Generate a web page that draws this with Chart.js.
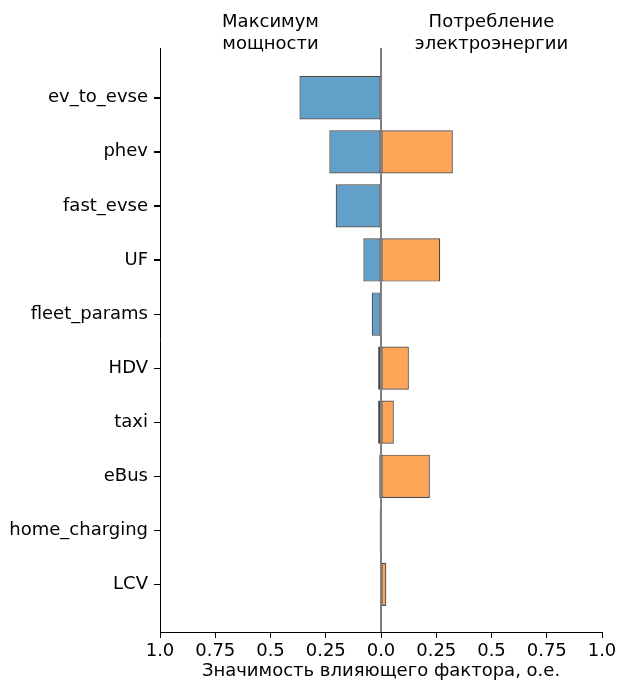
<!DOCTYPE html>
<html>
<head>
<meta charset="utf-8">
<script src="https://cdn.jsdelivr.net/npm/chart.js@4"></script>
<style>
html,body{margin:0;padding:0;background:#fff;}
#wrap{width:618px;height:682px;position:relative;}
</style>
</head>
<body>
<div id="wrap"><canvas id="c" width="618" height="682"></canvas></div>
<script>
const categories = ['ev_to_evse','phev','fast_evse','UF','fleet_params','HDV','taxi','eBus','home_charging','LCV'];
const powerMax = [0.369, 0.234, 0.205, 0.080, 0.042, 0.013, 0.013, 0.008, 0.006, null];
const energyUse = [null, 0.325, null, 0.268, null, 0.126, 0.058, 0.221, null, 0.024];
const xTickValues = [-1, -0.75, -0.5, -0.25, 0, 0.25, 0.5, 0.75, 1];
const xTickLabels = ['1.0','0.75','0.5','0.25','0.0','0.25','0.5','0.75','1.0'];
const groupTitles = [['Максимум','мощности'], ['Потребление','электроэнергии']];
const groupCenters = [-0.5, 0.5];
const xTitle = 'Значимость влияющего фактора, о.е.';

const FONT = "'DejaVu Sans', sans-serif";
const FS = 18;

const overlay = {
  id: 'overlay',
  afterDatasetsDraw(chart) {
    const ctx = chart.ctx, xs = chart.scales.x, ys = chart.scales.y, area = chart.chartArea;
    const x0 = xs.getPixelForValue(0);
    ctx.save();
    ctx.strokeStyle = '#808080';
    ctx.lineWidth = 2;
    ctx.beginPath();
    ctx.moveTo(x0, area.top);
    ctx.lineTo(x0, area.bottom);
    ctx.stroke();
    // y tick marks
    ctx.strokeStyle = '#000';
    ctx.lineWidth = 1;
    ctx.beginPath();
    categories.forEach((c, i) => {
      const py = Math.round(ys.getPixelForValue(i)) + 0.5;
      ctx.moveTo(area.left - 6, py);
      ctx.lineTo(area.left, py);
    });
    ctx.stroke();
    ctx.fillStyle = '#000';
    ctx.font = FS + 'px ' + FONT;
    ctx.textAlign = 'center';
    ctx.textBaseline = 'middle';
    groupTitles.forEach((lines, i) => {
      const cx = xs.getPixelForValue(groupCenters[i]);
      lines.forEach((t, j) => ctx.fillText(t, cx, 22 + j * 22));
    });
    ctx.restore();
  }
};

const barStyle = {
  borderColor: 'rgba(0,0,0,0.72)',
  borderWidth: 1.2,
  borderSkipped: false,
  categoryPercentage: 0.8,
  barPercentage: 1,
  grouped: false
};

new Chart(document.getElementById('c'), {
  type: 'bar',
  data: {
    datasets: [
      Object.assign({
        label: 'Максимум мощности',
        data: categories.map((c, i) => ({ y: i, x: powerMax[i] === null ? null : -powerMax[i] })),
        backgroundColor: 'rgba(31,119,180,0.7)'
      }, barStyle),
      Object.assign({
        label: 'Потребление электроэнергии',
        data: categories.map((c, i) => ({ y: i, x: energyUse[i] })),
        backgroundColor: 'rgba(255,127,14,0.7)'
      }, barStyle)
    ]
  },
  options: {
    indexAxis: 'y',
    responsive: false,
    animation: false,
    layout: { padding: { top: 48, right: 16, left: 0, bottom: 0 } },
    plugins: { legend: { display: false }, tooltip: { enabled: false } },
    scales: {
      x: {
        type: 'linear',
        min: -1, max: 1,
        afterBuildTicks(scale) { scale.ticks = xTickValues.map(v => ({ value: v })); },
        ticks: {
          color: '#000',
          font: { family: FONT, size: FS },
          padding: 3,
          maxRotation: 0,
          callback(v) { const i = xTickValues.indexOf(v); return i >= 0 ? xTickLabels[i] : ''; }
        },
        grid: { drawOnChartArea: false, drawTicks: true, tickLength: 6, color: '#000', lineWidth: 1 },
        border: { display: true, color: '#000', width: 1 },
        title: { display: true, text: xTitle, color: '#000', font: { family: FONT, size: FS }, padding: { top: 2, bottom: 0 } },
        afterFit(scale) { scale.height = 50; scale.paddingRight = 0; scale.paddingLeft = 0; }
      },
      y: {
        type: 'linear',
        reverse: true,
        offset: false,
        min: -0.92, max: 9.88,
        afterBuildTicks(scale) { scale.ticks = categories.map((c, i) => ({ value: i })); },
        ticks: {
          color: '#000', font: { family: FONT, size: FS }, padding: 6,
          callback(v) { return categories[v] !== undefined ? categories[v] : ''; }
        },
        grid: { offset: false, drawOnChartArea: false, drawTicks: true, tickLength: 6, color: '#000', lineWidth: 1 },
        border: { display: true, color: '#000', width: 1 },
        afterFit(scale) { scale.width = 160; scale.paddingTop = 0; scale.paddingBottom = 0; }
      }
    }
  },
  plugins: [overlay]
});
</script>
</body>
</html>
